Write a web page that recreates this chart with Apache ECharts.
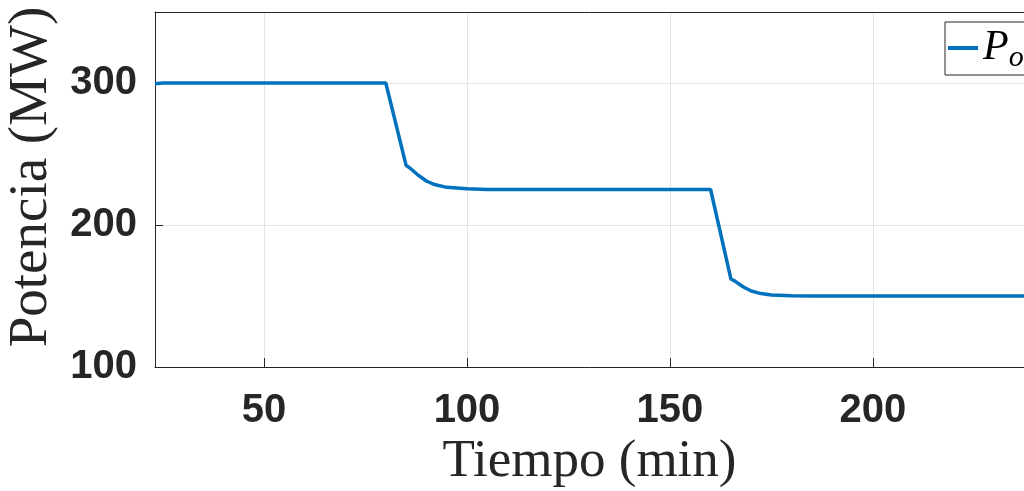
<!DOCTYPE html>
<html>
<head>
<meta charset="utf-8">
<script src="https://cdn.jsdelivr.net/npm/echarts@6/dist/echarts.min.js"></script>
<style>
html,body{margin:0;padding:0;background:#fff;}
#chart{width:1024px;height:491px;}
</style>
</head>
<body>
<div id="chart"></div>
<script>
// Data
const timeMin = [23.15, 25, 80, 85, 86, 88, 90, 92, 95, 100, 105, 160, 165, 166, 168, 170, 172, 175, 180, 185, 237.2];
const powerMW = [299.5, 300, 300, 242, 240, 235, 231, 228.5, 226.5, 225.5, 225, 225, 162, 160.5, 156.5, 153.5, 152, 150.7, 150.2, 150, 150];
const xTickLabels = [50, 100, 150, 200];
const yTickLabels = [100, 200, 300];
const seriesName = 'Po';

const points = timeMin.map((t, i) => [t, powerMW[i]]);

const chart = echarts.init(document.getElementById('chart'), null, {renderer: 'canvas'});
chart.setOption({
  animation: false,
  backgroundColor: '#ffffff',
  grid: {
    left: 155, top: 12, right: 0, bottom: 124,
    containLabel: false,
    outerBoundsMode: 'none',
    show: false
  },
  legend: {
    show: true,
    left: 945, top: 22,
    orient: 'vertical',
    icon: 'rect',
    itemWidth: 30, itemHeight: 4,
    itemGap: 0,
    padding: [5, 30, 2, 3],
    backgroundColor: '#ffffff',
    borderColor: '#262626',
    borderWidth: 1,
    formatter: function () { return '{i|P}{s|o}'; },
    textStyle: {
      padding: [0, 0, 0, 0],
      rich: {
        i: {fontFamily: 'Liberation Serif', fontStyle: 'italic', fontSize: 42, color: '#000'},
        s: {fontFamily: 'Liberation Serif', fontStyle: 'italic', fontSize: 30, color: '#000', verticalAlign: 'bottom', padding: [20, 0, 0, 0]}
      }
    },
    data: [seriesName]
  },
  xAxis: [{
    type: 'value',
    min: 23.15, max: 237.2,
    name: 'Tiempo (min)',
    nameLocation: 'middle',
    nameGap: 62,
    nameTextStyle: {fontFamily: 'Liberation Serif', fontSize: 53, color: '#262626'},
    axisLine: {show: true, onZero: false, lineStyle: {color: '#262626', width: 1}},
    axisTick: {show: true, inside: true, length: 9, customValues: xTickLabels, lineStyle: {color: '#262626'}},
    axisLabel: {
      customValues: xTickLabels,
      margin: 24,
      fontFamily: 'Liberation Sans', fontWeight: 'bold', fontSize: 40, color: '#262626'
    },
    splitLine: {show: true, lineStyle: {color: '#e3e3e3', width: 1}}
  }, {
    type: 'value',
    position: 'top',
    min: 23.15, max: 237.2,
    axisLine: {show: true, onZero: false, lineStyle: {color: '#262626', width: 1}},
    axisTick: {show: false},
    axisLabel: {show: false},
    splitLine: {show: false}
  }],
  yAxis: {
    type: 'value',
    min: 100, max: 350, interval: 100,
    name: 'Potencia (MW)',
    nameLocation: 'middle',
    nameGap: 92,
    nameTextStyle: {fontFamily: 'Liberation Serif', fontSize: 55, color: '#262626', padding: [0, 0, 0, 25]},
    axisLine: {show: true, onZero: false, lineStyle: {color: '#262626', width: 1}},
    axisTick: {show: true, inside: true, length: 8, customValues: yTickLabels, lineStyle: {color: '#262626'}},
    axisLabel: {
      customValues: yTickLabels,
      margin: 18,
      fontFamily: 'Liberation Sans', fontWeight: 'bold', fontSize: 40, color: '#262626'
    },
    splitLine: {show: true, lineStyle: {color: '#e3e3e3', width: 1}}
  },
  series: [{
    name: seriesName,
    type: 'line',
    xAxisIndex: 0,
    data: points,
    showSymbol: false,
    symbol: 'none',
    smooth: false,
    lineStyle: {color: '#0072BD', width: 3.5},
    itemStyle: {color: '#0072BD'},
    z: 3
  }]
});
</script>
</body>
</html>
